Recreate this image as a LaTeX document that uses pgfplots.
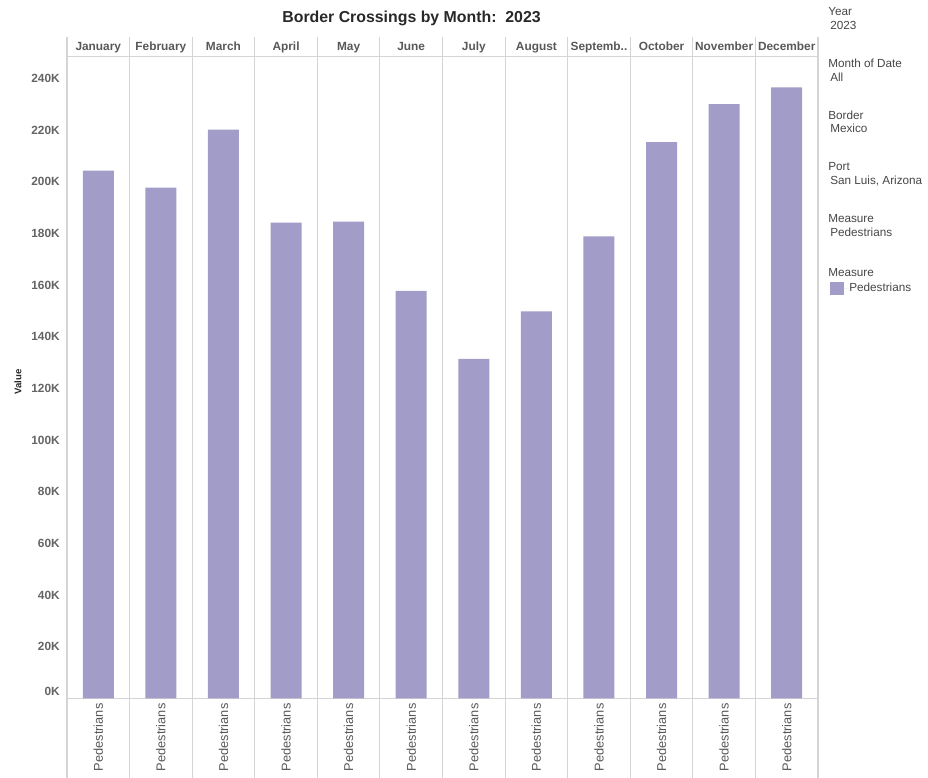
\documentclass[border=0pt]{standalone}
\usepackage{fontspec}
\setmainfont{Liberation Sans}
\usepackage{pgfplots}
\pgfplotsset{compat=1.18}

\definecolor{barc}{RGB}{161,157,200}
\definecolor{sepc}{RGB}{212,212,212}
\definecolor{hdrc}{RGB}{88,88,88}
\definecolor{tickc}{RGB}{100,100,100}
\definecolor{txtc}{RGB}{70,70,70}
\definecolor{titc}{RGB}{40,40,40}

\newcommand\hdrfont{\fontsize{8.9}{10}\selectfont\bfseries}
\newcommand\txtfont{\fontsize{8.8}{10}\selectfont}

\begin{document}
\begin{tikzpicture}
% bars, y axis, bottom row labels
\begin{axis}[
    name=main,
    scale only axis,
    width=563.25pt, height=481pt,
    xmin=-0.5, xmax=11.5,
    ymin=0, ymax=248300,
    clip=false,
    axis line style={draw=none},
    major tick length=0pt,
    xtick={0,...,11},
    xticklabels={Pedestrians,Pedestrians,Pedestrians,Pedestrians,Pedestrians,Pedestrians,
                 Pedestrians,Pedestrians,Pedestrians,Pedestrians,Pedestrians,Pedestrians},
    xticklabel style={rotate=90, anchor=east, inner xsep=3.75pt, inner ysep=0pt,
                      font=\fontsize{9.6}{11}\selectfont, text=hdrc},
    scaled y ticks=false,
    ytick={0,20000,40000,60000,80000,100000,120000,140000,160000,180000,200000,220000,240000},
    yticklabels={\raisebox{5.25pt}[6.4pt][0pt]{0K},20K,40K,60K,80K,100K,120K,140K,160K,180K,200K,220K,240K},
    yticklabel style={anchor=east, inner sep=0pt, xshift=-5.25pt, font=\hdrfont, text=tickc},
    ylabel={Value},
    % the label is rotated, so yshift moves it left and xshift moves it along the axis
    ylabel style={at={(rel axis cs:0,0.5)}, anchor=center, yshift=36.75pt, xshift=-3.2pt,
                  font=\fontsize{7.2}{8}\selectfont\bfseries, text=titc},
    legend style={at={(rel axis cs:1,1)}, anchor=north west, xshift=9pt, yshift=-168.5pt,
                  draw=none, fill=none, inner sep=0pt, font=\txtfont, text=txtc,
                  nodes={inner sep=0pt}},
    legend image code/.code={\fill[barc] (0pt,-4.9pt) rectangle (10.5pt,4.9pt);
                             \path (0pt,0pt) -- (14.25pt,0pt);},
]
% panel separators and the two horizontal rules
\pgfplotsinvokeforeach{-0.5,0.5,1.5,2.5,3.5,4.5,5.5,6.5,7.5,8.5,9.5,10.5,11.5}{
    \draw[sepc, line width=0.8pt] ([yshift=-60pt]axis cs:#1,0) -- ([yshift=15pt]axis cs:#1,248300);
}
\draw[sepc, line width=0.8pt] (axis cs:-0.5,0) -- (axis cs:11.5,0);
\draw[sepc, line width=0.8pt] (axis cs:-0.5,248300) -- (axis cs:11.5,248300);

\addplot[ybar, bar width=23.25pt, fill=barc, draw=none] coordinates {
    (0,204300)
    (1,197700)
    (2,220200)
    (3,184200)
    (4,184500)
    (5,157700)
    (6,131400)
    (7,149800)
    (8,178800)
    (9,215300)
    (10,230000)
    (11,236500)
};
\addlegendentry{Pedestrians}
\end{axis}

% month headers on top
\begin{axis}[
    at={(main.south west)}, anchor=south west,
    scale only axis,
    width=563.25pt, height=481pt,
    xmin=-0.5, xmax=11.5,
    ymin=0, ymax=248300,
    axis line style={draw=none},
    major tick length=0pt,
    ytick=\empty,
    xtick={0,...,11},
    xticklabel pos=upper,
    xticklabels={January,February,March,April,May,June,July,August,Septemb..,October,November,December},
    xticklabel style={anchor=base, yshift=5pt, inner sep=0pt, font=\hdrfont, text=hdrc},
]
\end{axis}

% title
\node[anchor=center, font=\fontsize{11.9}{14}\selectfont\bfseries, text=titc]
    at ([xshift=258.4pt, yshift=29.25pt]main.north west) {Border Crossings by Month:\ \ 2023};

% filter panel on the right
\begin{scope}[shift={(main.north east)},
    every node/.style={anchor=base west, inner sep=0pt, font=\txtfont, text=txtc}]
\node at (7.5pt,30.75pt) {Year};
\node at (9pt,20.25pt) {2023};
\node at (7.5pt,-8.25pt) {Month of Date};
\node at (9pt,-18.75pt) {All};
\node at (7.5pt,-47.25pt) {Border};
\node at (9pt,-57pt) {Mexico};
\node at (7.5pt,-85.5pt) {Port};
\node at (9pt,-96pt) {San Luis, Arizona};
\node at (7.5pt,-124.5pt) {Measure};
\node at (9pt,-135pt) {Pedestrians};
\node at (7.5pt,-165pt) {Measure};
\end{scope}

\pgfresetboundingbox
\path[use as bounding box] ([xshift=-50.25pt, yshift=-59.775pt]main.south west) rectangle ++(696pt,583.5pt);
\end{tikzpicture}
\end{document}
